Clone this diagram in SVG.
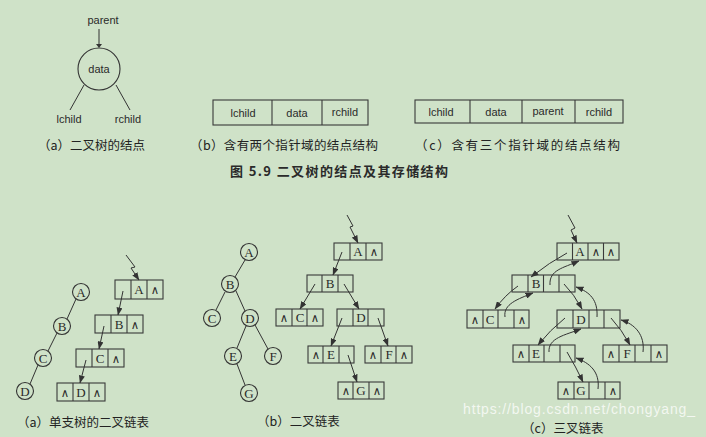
<svg xmlns="http://www.w3.org/2000/svg" width="706" height="437" viewBox="0 0 706 437">
<defs>
<style>
.bg{fill:#cfe2c8}
.ln{fill:none;stroke:#333;stroke-width:1}
.bx{fill:none;stroke:#3a3a3a;stroke-width:1.1}
.cir{fill:none;stroke:#333;stroke-width:1.1}
.s{font-family:"Liberation Sans",Arial,sans-serif;font-size:11px;fill:#2a2a2a;text-anchor:middle}
.t{font-family:"Liberation Serif","Times New Roman",serif;font-size:13px;fill:#2a2a2a;text-anchor:middle}
.n{font-family:"DejaVu Serif","Liberation Serif",serif;font-size:11.5px}
.cap{font-family:"Noto Sans CJK SC","Noto Sans",sans-serif;font-size:12.5px;fill:#222}
.fig{font-family:"Noto Sans CJK SC","Noto Sans",sans-serif;font-size:13px;font-weight:bold;fill:#2a2a2a}
.wm{font-family:"Liberation Sans",Arial,sans-serif;font-size:14px;fill:#ffffff;fill-opacity:0.75}
</style>
<marker id="ah" markerWidth="8" markerHeight="6" refX="7.5" refY="3" orient="auto" markerUnits="userSpaceOnUse">
<path d="M0,0 L8,3 L0,6 z" fill="#333"/>
</marker>
</defs>
<rect class="bg" x="0" y="0" width="706" height="437"/>

<!-- top (a) -->
<g id="top-a">
<text class="s" x="103" y="24">parent</text>
<line class="ln" x1="99" y1="29" x2="99" y2="46"/>
<path d="M96,44 L99,48 L102,44z" fill="#333"/>
<circle class="cir" cx="99" cy="69" r="21"/>
<text class="s" x="99" y="73">data</text>
<line class="ln" x1="84" y1="85" x2="70" y2="110"/>
<line class="ln" x1="116" y1="85" x2="130" y2="110"/>
<text class="s" x="69" y="123">lchild</text>
<text class="s" x="128" y="123">rchild</text>
<text class="cap" x="38" y="150">（a）二叉树的结点</text>
</g>

<!-- top (b) -->
<g id="top-b">
<rect class="bx" x="213" y="100" width="155" height="25"/>
<line class="bx" x1="272" y1="100" x2="272" y2="125"/>
<line class="bx" x1="322" y1="100" x2="322" y2="125"/>
<text class="s" x="243" y="117">lchild</text>
<text class="s" x="297" y="117">data</text>
<text class="s" x="345" y="116">rchild</text>
<text class="cap" x="190" y="150" textLength="188">（b）含有两个指针域的结点结构</text>
</g>

<!-- top (c) -->
<g id="top-c">
<rect class="bx" x="415" y="100" width="208" height="23"/>
<line class="bx" x1="470" y1="100" x2="470" y2="123"/>
<line class="bx" x1="522" y1="100" x2="522" y2="123"/>
<line class="bx" x1="575" y1="100" x2="575" y2="123"/>
<text class="s" x="441" y="116">lchild</text>
<text class="s" x="496" y="116">data</text>
<text class="s" x="548" y="115">parent</text>
<text class="s" x="599" y="116">rchild</text>
<text class="cap" x="415" y="150" textLength="205">（c）含有三个指针域的结点结构</text>
</g>

<text class="fig" x="230" y="176" textLength="218">图 5.9    二叉树的结点及其存储结构</text>

<!-- bottom (a) tree -->
<g id="a-tree-A"><circle class="cir" cx="81" cy="292" r="8.5"/><text class="t" x="81" y="297">A</text></g>
<g id="a-tree-B"><circle class="cir" cx="62" cy="326" r="8.5"/><text class="t" x="62" y="331">B</text></g>
<g id="a-tree-C"><circle class="cir" cx="43" cy="358" r="8.5"/><text class="t" x="43" y="363">C</text></g>
<g id="a-tree-D"><circle class="cir" cx="25" cy="391" r="8.5"/><text class="t" x="25" y="396">D</text></g>

<!-- bottom (a) list -->
<g id="a-list-A"><rect class="bx" x="115" y="280" width="48" height="19"/><line class="bx" x1="131" y1="280" x2="131" y2="299"/><line class="bx" x1="147" y1="280" x2="147" y2="299"/><text class="t" x="139" y="294">A</text><text class="t n" x="155" y="294">∧</text></g>
<g id="a-list-B"><rect class="bx" x="95" y="315" width="48" height="18"/><line class="bx" x1="111" y1="315" x2="111" y2="333"/><line class="bx" x1="127" y1="315" x2="127" y2="333"/><text class="t" x="119" y="329">B</text><text class="t n" x="135" y="329">∧</text></g>
<g id="a-list-C"><rect class="bx" x="76" y="349" width="48" height="18"/><line class="bx" x1="92" y1="349" x2="92" y2="367"/><line class="bx" x1="108" y1="349" x2="108" y2="367"/><text class="t" x="100" y="363">C</text><text class="t n" x="116" y="363">∧</text></g>
<g id="a-list-D"><rect class="bx" x="57" y="383" width="48" height="18"/><line class="bx" x1="73" y1="383" x2="73" y2="401"/><line class="bx" x1="89" y1="383" x2="89" y2="401"/><text class="t n" x="65" y="397">∧</text><text class="t" x="81" y="397">D</text><text class="t n" x="97" y="397">∧</text></g>
<text class="cap" x="17" y="427">（a）单支树的二叉链表</text>

<!-- bottom (b) tree -->
<g id="b-tree-A"><circle class="cir" cx="249" cy="252" r="8.5"/><text class="t" x="249" y="257">A</text></g>
<g id="b-tree-B"><circle class="cir" cx="230" cy="284" r="8.5"/><text class="t" x="230" y="289">B</text></g>
<g id="b-tree-C"><circle class="cir" cx="212" cy="318" r="8.5"/><text class="t" x="212" y="323">C</text></g>
<g id="b-tree-D"><circle class="cir" cx="250" cy="318" r="8.5"/><text class="t" x="250" y="323">D</text></g>
<g id="b-tree-E"><circle class="cir" cx="233" cy="356" r="8.5"/><text class="t" x="233" y="361">E</text></g>
<g id="b-tree-F"><circle class="cir" cx="273" cy="356" r="8.5"/><text class="t" x="273" y="361">F</text></g>
<g id="b-tree-G"><circle class="cir" cx="249" cy="393" r="8.5"/><text class="t" x="249" y="398">G</text></g>

<!-- bottom (b) list -->
<g id="b-list-A"><rect class="bx" x="334" y="243" width="48" height="17"/><line class="bx" x1="350" y1="243" x2="350" y2="260"/><line class="bx" x1="366" y1="243" x2="366" y2="260"/><text class="t" x="358" y="256">A</text><text class="t n" x="374" y="256">∧</text></g>
<g id="b-list-B"><rect class="bx" x="307" y="275" width="46" height="17"/><line class="bx" x1="322" y1="275" x2="322" y2="292"/><line class="bx" x1="338" y1="275" x2="338" y2="292"/><text class="t" x="330" y="288">B</text></g>
<g id="b-list-C"><rect class="bx" x="276" y="309" width="47" height="17"/><line class="bx" x1="292" y1="309" x2="292" y2="326"/><line class="bx" x1="307" y1="309" x2="307" y2="326"/><text class="t n" x="284" y="322">∧</text><text class="t" x="300" y="322">C</text><text class="t n" x="315" y="322">∧</text></g>
<g id="b-list-D"><rect class="bx" x="337" y="309" width="47" height="17"/><line class="bx" x1="353" y1="309" x2="353" y2="326"/><line class="bx" x1="368" y1="309" x2="368" y2="326"/><text class="t" x="361" y="322">D</text></g>
<g id="b-list-E"><rect class="bx" x="308" y="346" width="46" height="17"/><line class="bx" x1="323" y1="346" x2="323" y2="363"/><line class="bx" x1="339" y1="346" x2="339" y2="363"/><text class="t n" x="316" y="359">∧</text><text class="t" x="331" y="359">E</text></g>
<g id="b-list-F"><rect class="bx" x="365" y="346" width="47" height="17"/><line class="bx" x1="381" y1="346" x2="381" y2="363"/><line class="bx" x1="396" y1="346" x2="396" y2="363"/><text class="t n" x="373" y="359">∧</text><text class="t" x="389" y="359">F</text><text class="t n" x="404" y="359">∧</text></g>
<g id="b-list-G"><rect class="bx" x="338" y="382" width="46" height="17"/><line class="bx" x1="353" y1="382" x2="353" y2="399"/><line class="bx" x1="369" y1="382" x2="369" y2="399"/><text class="t n" x="346" y="395">∧</text><text class="t" x="361" y="395">G</text><text class="t n" x="377" y="395">∧</text></g>
<text class="cap" x="257" y="426">（b）二叉链表</text>

<!-- bottom (c) list -->
<g id="c-list-A"><rect class="bx" x="557" y="243" width="62" height="17"/><line class="bx" x1="572.5" y1="243" x2="572.5" y2="260"/><line class="bx" x1="588" y1="243" x2="588" y2="260"/><line class="bx" x1="603.5" y1="243" x2="603.5" y2="260"/><text class="t" x="580" y="256">A</text><text class="t n" x="596" y="256">∧</text><text class="t n" x="611" y="256">∧</text></g>
<g id="c-list-B"><rect class="bx" x="512" y="275" width="63" height="17"/><line class="bx" x1="528" y1="275" x2="528" y2="292"/><line class="bx" x1="543.5" y1="275" x2="543.5" y2="292"/><line class="bx" x1="559" y1="275" x2="559" y2="292"/><text class="t" x="536" y="288">B</text></g>
<g id="c-list-C"><rect class="bx" x="467" y="310" width="62" height="18"/><line class="bx" x1="483" y1="310" x2="483" y2="328"/><line class="bx" x1="498" y1="310" x2="498" y2="328"/><line class="bx" x1="514" y1="310" x2="514" y2="328"/><text class="t n" x="475" y="324">∧</text><text class="t" x="490" y="324">C</text><text class="t n" x="522" y="324">∧</text></g>
<g id="c-list-D"><rect class="bx" x="557" y="310" width="63" height="18"/><line class="bx" x1="573" y1="310" x2="573" y2="328"/><line class="bx" x1="589" y1="310" x2="589" y2="328"/><line class="bx" x1="604" y1="310" x2="604" y2="328"/><text class="t" x="581" y="324">D</text></g>
<g id="c-list-E"><rect class="bx" x="513" y="345" width="62" height="17"/><line class="bx" x1="529" y1="345" x2="529" y2="362"/><line class="bx" x1="544" y1="345" x2="544" y2="362"/><line class="bx" x1="560" y1="345" x2="560" y2="362"/><text class="t n" x="521" y="358">∧</text><text class="t" x="536" y="358">E</text></g>
<g id="c-list-F"><rect class="bx" x="603" y="345" width="64" height="17"/><line class="bx" x1="619" y1="345" x2="619" y2="362"/><line class="bx" x1="635" y1="345" x2="635" y2="362"/><line class="bx" x1="651" y1="345" x2="651" y2="362"/><text class="t n" x="611" y="358">∧</text><text class="t" x="627" y="358">F</text><text class="t n" x="659" y="358">∧</text></g>
<g id="c-list-G"><rect class="bx" x="558" y="382" width="62" height="17"/><line class="bx" x1="574" y1="382" x2="574" y2="399"/><line class="bx" x1="589" y1="382" x2="589" y2="399"/><line class="bx" x1="605" y1="382" x2="605" y2="399"/><text class="t n" x="566" y="395">∧</text><text class="t" x="581" y="395">G</text><text class="t n" x="613" y="395">∧</text></g>
<text class="cap" x="522" y="433">（c）三叉链表</text>

<!-- connectors -->
<g id="connectors">
<line class="ln" x1="76" y1="299" x2="67" y2="319"/>
<line class="ln" x1="57" y1="333" x2="48" y2="351"/>
<line class="ln" x1="38" y1="365" x2="30" y2="384"/>
<path class="ln" d="M126,255 L135,267 L131,268 L139,280" marker-end="url(#ah)"/>
<line class="ln" x1="123" y1="291" x2="118" y2="315" marker-end="url(#ah)"/>
<line class="ln" x1="104" y1="326" x2="99" y2="349" marker-end="url(#ah)"/>
<line class="ln" x1="86" y1="360" x2="80" y2="383" marker-end="url(#ah)"/>
<line class="ln" x1="245" y1="260" x2="235" y2="277"/>
<line class="ln" x1="225" y1="292" x2="216" y2="310"/>
<line class="ln" x1="236" y1="291" x2="245" y2="311"/>
<line class="ln" x1="246" y1="326" x2="237" y2="348"/>
<line class="ln" x1="255" y1="325" x2="268" y2="349"/>
<line class="ln" x1="237" y1="364" x2="245" y2="385"/>
<path class="ln" d="M347,215 L353,226 L350,227 L358,243" marker-end="url(#ah)"/>
<line class="ln" x1="342" y1="252" x2="333" y2="275" marker-end="url(#ah)"/>
<line class="ln" x1="315" y1="284" x2="300" y2="309" marker-end="url(#ah)"/>
<line class="ln" x1="344" y1="284" x2="359" y2="309" marker-end="url(#ah)"/>
<line class="ln" x1="342" y1="318" x2="331" y2="346" marker-end="url(#ah)"/>
<line class="ln" x1="378" y1="318" x2="388" y2="346" marker-end="url(#ah)"/>
<line class="ln" x1="348" y1="355" x2="357" y2="382" marker-end="url(#ah)"/>
<path class="ln" d="M568,215 L575,228 L571,230 L577,243" marker-end="url(#ah)"/>
<path class="ln" d="M567,253 Q550,262 531,277" marker-end="url(#ah)"/>
<path class="ln" d="M550,285 C549,270 563,268 579,261" marker-end="url(#ah)"/>
<path class="ln" d="M518,286 Q505,295 495,309" marker-end="url(#ah)"/>
<path class="ln" d="M505,317 C503,304 518,299 533,293" marker-end="url(#ah)"/>
<path class="ln" d="M564,284 Q574,294 582,309" marker-end="url(#ah)"/>
<path class="ln" d="M597,317 C598,300 590,292 576,287" marker-end="url(#ah)"/>
<path class="ln" d="M565,318 Q550,330 538,345" marker-end="url(#ah)"/>
<path class="ln" d="M549,352 C548,338 565,335 581,329" marker-end="url(#ah)"/>
<path class="ln" d="M611,318 Q622,330 630,345" marker-end="url(#ah)"/>
<path class="ln" d="M643,352 C645,335 635,324 621,320" marker-end="url(#ah)"/>
<path class="ln" d="M567,352 Q576,367 583,382" marker-end="url(#ah)"/>
<path class="ln" d="M598,389 C600,372 590,363 576,358" marker-end="url(#ah)"/>
</g>

<text class="wm" x="463" y="414" textLength="232">https://blog.csdn.net/chongyang_</text>
</svg>
